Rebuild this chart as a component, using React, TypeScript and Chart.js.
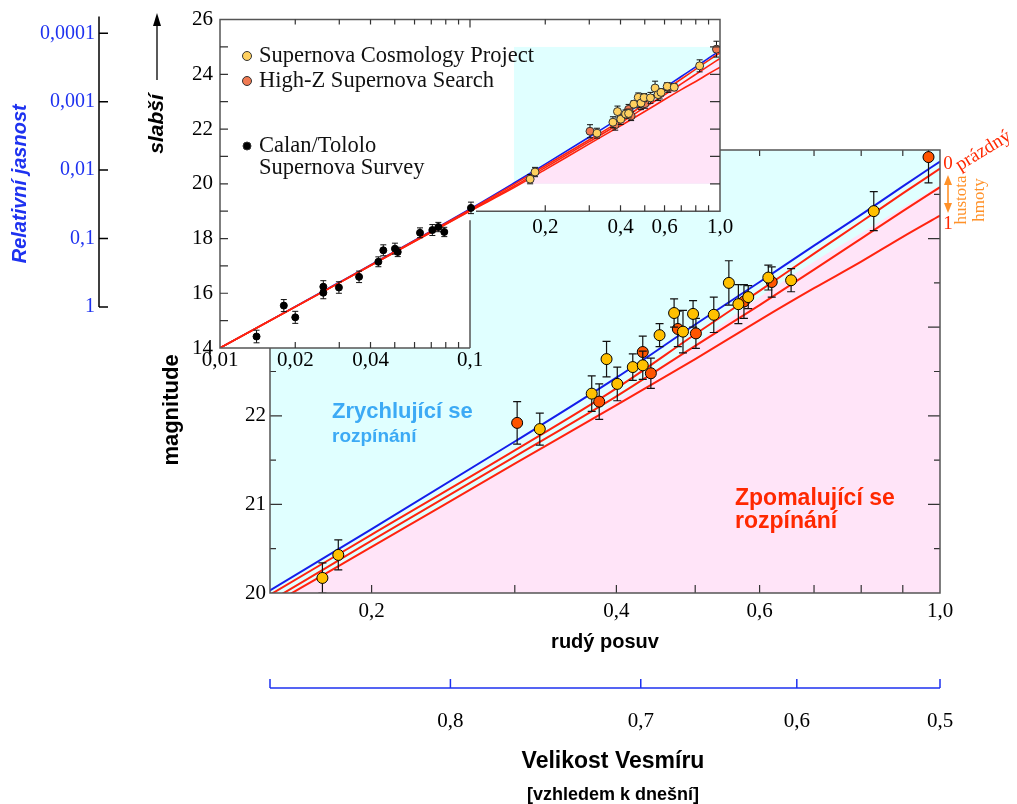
import React, { useEffect, useRef } from 'react';
import { Chart, registerables } from 'chart.js';

Chart.register(...registerables);

// ================= DATA =================
// Supernova Cosmology Project: redshift, effective magnitude, error
const SCP_Z = [0.174, 0.182, 0.322, 0.373, 0.389, 0.401, 0.419, 0.431, 0.452, 0.471, 0.483, 0.497, 0.527, 0.550, 0.565, 0.581, 0.615, 0.656, 0.829];
const SCP_MAG = [20.17, 20.43, 21.85, 22.25, 22.64, 22.36, 22.55, 22.57, 22.91, 23.16, 22.95, 23.15, 23.14, 23.50, 23.26, 23.34, 23.56, 23.53, 24.31];
const SCP_ERR = [0.17, 0.17, 0.18, 0.20, 0.20, 0.19, 0.15, 0.16, 0.13, 0.16, 0.24, 0.15, 0.20, 0.25, 0.22, 0.13, 0.14, 0.13, 0.22];

// High-Z Supernova Search
const HZ_Z = [0.302, 0.381, 0.431, 0.441, 0.476, 0.501, 0.574, 0.621, 0.968];
const HZ_MAG = [21.92, 22.16, 22.72, 22.48, 22.98, 22.93, 23.29, 23.51, 24.92];
const HZ_ERR = [0.24, 0.20, 0.18, 0.17, 0.20, 0.17, 0.19, 0.17, 0.29];

// Calan/Tololo Supernova Survey (low redshift, inset only)
const CT_Z = [0.0140, 0.0180, 0.0200, 0.0259, 0.0259, 0.0299, 0.0360, 0.0430, 0.0450, 0.0501, 0.0514, 0.0631, 0.0707, 0.0747, 0.0789, 0.1009];
const CT_MAG = [14.42, 15.55, 15.12, 16.24, 16.02, 16.21, 16.60, 17.15, 17.57, 17.63, 17.51, 18.21, 18.31, 18.42, 18.24, 19.12];
const CT_ERR = [0.23, 0.22, 0.22, 0.22, 0.22, 0.21, 0.21, 0.18, 0.20, 0.20, 0.17, 0.18, 0.20, 0.17, 0.17, 0.21];

// Model curves (magnitude at the given redshifts)
const MODEL_Z = [0.01, 0.03, 0.1, 0.15, 0.2, 0.3, 0.4, 0.5, 0.6, 0.7, 0.8, 0.9, 1.0];
const MODEL_ACCEL_MAG = [14.0, 16.40, 19.08, 20.03, 20.72, 21.71, 22.43, 23.03, 23.51, 23.92, 24.27, 24.59, 24.87];
const MODEL_EMPTY_MAG = [14.0, 16.39, 19.05, 19.98, 20.66, 21.61, 22.31, 22.92, 23.41, 23.83, 24.19, 24.51, 24.79];
const MODEL_HALF_MAG = [14.0, 16.38, 19.02, 19.91, 20.59, 21.54, 22.22, 22.79, 23.25, 23.65, 24.00, 24.31, 24.58];
const MODEL_FULL_MAG = [14.0, 16.38, 19.00, 19.86, 20.52, 21.46, 22.12, 22.64, 23.08, 23.44, 23.74, 24.02, 24.26];

// Boundary between accelerating (cyan) and decelerating (pink) regions
const BOUNDARY_Z = [0.15, 0.2, 0.3, 0.4, 0.5, 0.6, 0.7, 0.8, 0.9, 1.0];
const BOUNDARY_MAG = [19.88, 20.53, 21.46, 22.17, 22.81, 23.34, 23.74, 24.06, 24.35, 24.60];

const SERIES_LABELS = ['Supernova Cosmology Project', 'High-Z Supernova Search', 'Calan/Tololo Supernova Survey'];
const LEGEND_LINES = [['Supernova Cosmology Project'], ['High-Z Supernova Search'], ['Calan/Tololo', 'Supernova Survey']];

// ---- axes ----
const MAIN_Z_RANGE = [0.15, 1.0];
const MAIN_MAG_RANGE = [20, 25];
const MAIN_X_TICKS = [0.2, 0.4, 0.6, 1.0];
const MAIN_X_LABELS = ['0,2', '0,4', '0,6', '1,0'];
const MAIN_X_MARKS = [0.2, 0.3, 0.4, 0.5, 0.6, 0.7, 0.8, 0.9];
const MAIN_Y_TICKS = [20, 21, 22, 23, 24, 25];
const MAIN_Y_LABELS = ['20', '21', '22', '23', '24', '25'];
const MAIN_Y_MARKS = [20.5, 21, 21.5, 22, 22.5, 23, 23.5, 24, 24.5];

const SIZE_TICKS = [0.8, 0.7, 0.6, 0.5];
const SIZE_LABELS = ['0,8', '0,7', '0,6', '0,5'];

const INSET_Z_RANGE = [0.01, 1.0];
const INSET_MAG_RANGE = [14, 26];
const INSET_NOTCH = { z: 0.1, mag: 19 };
const INSET_X_TICKS = [0.01, 0.02, 0.04, 0.1];
const INSET_X_LABELS = ['0,01', '0,02', '0,04', '0,1'];
const INSET_X_NOTCH_TICKS = [0.2, 0.4, 0.6, 1.0];
const INSET_X_NOTCH_LABELS = ['0,2', '0,4', '0,6', '1,0'];
const INSET_X_MARKS = [0.02, 0.03, 0.04, 0.05, 0.06, 0.07, 0.08, 0.09, 0.1, 0.2, 0.3, 0.4, 0.5, 0.6, 0.7, 0.8, 0.9];
const INSET_Y_TICKS = [14, 16, 18, 20, 22, 24, 26];
const INSET_Y_LABELS = ['14', '16', '18', '20', '22', '24', '26'];
const INSET_Y_MARKS = [15, 16, 17, 18, 19, 20, 21, 22, 23, 24, 25];

const BRIGHT_REF_MAG = 15.5;
const BRIGHT_TICKS = [1, 0.1, 0.01, 0.001, 0.0001];
const BRIGHT_LABELS = ['1', '0,1', '0,01', '0,001', '0,0001'];

// ================= STYLE =================
const W = 1017;
const H = 804;
const SERIF = '"Liberation Serif", "Times New Roman", serif';
const SANS = '"Liberation Sans", Arial, sans-serif';
const CYAN = 'rgb(224,255,255)';
const PINK = 'rgb(255,228,248)';
const BLUE_LINE = 'rgb(20,30,235)';
const RED_LINE = 'rgb(255,35,15)';
const SCP_FILL = 'rgb(255,192,0)';
const HZ_FILL = 'rgb(255,85,0)';
const SCP_FILL_INSET = 'rgb(255,208,95)';
const HZ_FILL_INSET = 'rgb(240,122,82)';
const LIGHT_BLUE = 'rgb(60,170,245)';
const TEXT_RED = 'rgb(255,40,0)';
const AXIS_BLUE = 'rgb(30,50,240)';
const ORANGE = 'rgb(255,145,40)';

const pts = (xs: number[], ys: number[]) => xs.map((x, i) => ({ x, y: ys[i] }));

function txt(ctx: any, s: string, x: number, y: number, font: string, color: string,
  align: string = 'left', baseline: string = 'alphabetic', rot = 0) {
  ctx.save();
  ctx.translate(x, y);
  if (rot) ctx.rotate(rot);
  ctx.font = font;
  ctx.fillStyle = color;
  ctx.textAlign = align;
  ctx.textBaseline = baseline;
  ctx.fillText(s, 0, 0);
  ctx.restore();
}

function arrowHead(ctx: any, x: number, y: number, dir: number, w: number, l: number) {
  // dir = -1: pointing up, 1: pointing down; (x,y) is the tip
  ctx.beginPath();
  ctx.moveTo(x, y);
  ctx.lineTo(x - w / 2, y - dir * l);
  ctx.lineTo(x + w / 2, y - dir * l);
  ctx.closePath();
  ctx.fill();
}

const errorBars = {
  id: 'errorBars',
  beforeDatasetDraw(chart: any, args: any) {
    const ds = chart.data.datasets[args.index];
    if (!ds.errors) return;
    const meta = args.meta;
    const ys = chart.scales[meta.yAxisID];
    const a = chart.chartArea;
    const ctx = chart.ctx;
    const cap = ds.errorCap ?? 4;
    ctx.save();
    ctx.beginPath();
    ctx.rect(a.left, a.top, a.right - a.left, a.bottom - a.top);
    ctx.clip();
    ctx.strokeStyle = ds.errorColor ?? '#111';
    ctx.lineWidth = ds.errorWidth ?? 1.2;
    ds.data.forEach((d: any, i: number) => {
      const el = meta.data[i];
      if (!el) return;
      const x = el.x;
      const y1 = ys.getPixelForValue(d.y + ds.errors[i]);
      const y2 = ys.getPixelForValue(d.y - ds.errors[i]);
      ctx.beginPath();
      ctx.moveTo(x, y1); ctx.lineTo(x, y2);
      ctx.moveTo(x - cap, y1); ctx.lineTo(x + cap, y1);
      ctx.moveTo(x - cap, y2); ctx.lineTo(x + cap, y2);
      ctx.stroke();
    });
    ctx.restore();
  },
};

const mainDecor = {
  id: 'mainDecor',
  beforeDraw(chart: any) {
    const { ctx, chartArea: a } = chart;
    ctx.save();
    ctx.fillStyle = CYAN;
    ctx.fillRect(a.left, a.top, a.right - a.left, a.bottom - a.top);
    ctx.restore();
  },
  afterDraw(chart: any) {
    const { ctx, chartArea: a, scales } = chart;
    const x = scales.x, y = scales.y, x2 = scales.x2;
    ctx.save();
    // inner tick marks
    ctx.strokeStyle = '#333';
    ctx.lineWidth = 1.2;
    ctx.beginPath();
    MAIN_X_MARKS.forEach((v) => {
      const px = x.getPixelForValue(v);
      ctx.moveTo(px, a.bottom); ctx.lineTo(px, a.bottom - 8);
      ctx.moveTo(px, a.top); ctx.lineTo(px, a.top + 6);
    });
    MAIN_Y_MARKS.forEach((v) => {
      const py = y.getPixelForValue(v);
      const len = Number.isInteger(v) ? 12 : 6;
      ctx.moveTo(a.left, py); ctx.lineTo(a.left + len, py);
      ctx.moveTo(a.right, py); ctx.lineTo(a.right - len, py);
    });
    ctx.stroke();
    // frame
    ctx.strokeStyle = '#555';
    ctx.lineWidth = 1.5;
    ctx.strokeRect(a.left, a.top, a.right - a.left, a.bottom - a.top);

    // size-of-universe axis (blue)
    const yb = x2.top;
    ctx.strokeStyle = AXIS_BLUE;
    ctx.lineWidth = 1.5;
    ctx.beginPath();
    ctx.moveTo(a.left, yb); ctx.lineTo(a.right, yb);
    [MAIN_Z_RANGE[0], ...SIZE_TICKS.map((s) => 1 / s - 1)].forEach((z) => {
      const px = x2.getPixelForValue(z);
      ctx.moveTo(px, yb); ctx.lineTo(px, yb - 9);
    });
    ctx.stroke();

    // texts
    txt(ctx, 'magnitude', 172, 410, `bold 22px ${SANS}`, '#000', 'center', 'middle', -Math.PI / 2);
    txt(ctx, 'Zrychlující se', 332, 418, `bold 22px ${SANS}`, LIGHT_BLUE);
    txt(ctx, 'rozpínání', 332, 442, `bold 19px ${SANS}`, LIGHT_BLUE);
    txt(ctx, 'Zpomalující se', 735, 505, `bold 23px ${SANS}`, TEXT_RED);
    txt(ctx, 'rozpínání', 735, 528, `bold 23px ${SANS}`, TEXT_RED);
    txt(ctx, 'Velikost Vesmíru', 613, 762, `bold 23px ${SANS}`, '#000', 'center', 'middle');
    txt(ctx, '[vzhledem k dnešní]', 613, 795, `bold 18px ${SANS}`, '#000', 'center', 'middle');

    txt(ctx, '0', 948, 164, `19px ${SERIF}`, TEXT_RED, 'center', 'middle');
    txt(ctx, 'prázdný', 960, 171, `19px ${SERIF}`, TEXT_RED, 'left', 'alphabetic', -0.55);
    txt(ctx, '1', 948, 224, `19px ${SERIF}`, TEXT_RED, 'center', 'middle');
    ctx.strokeStyle = ORANGE;
    ctx.fillStyle = ORANGE;
    ctx.lineWidth = 1.6;
    ctx.beginPath(); ctx.moveTo(948, 183); ctx.lineTo(948, 205); ctx.stroke();
    arrowHead(ctx, 948, 175, -1, 8, 10);
    arrowHead(ctx, 948, 213, 1, 8, 10);
    txt(ctx, 'hustota', 962, 200, `17px ${SERIF}`, ORANGE, 'center', 'middle', -Math.PI / 2);
    txt(ctx, 'hmoty', 980, 200, `17px ${SERIF}`, ORANGE, 'center', 'middle', -Math.PI / 2);
    ctx.restore();
  },
};

const insetDecor = {
  id: 'insetDecor',
  beforeDraw(chart: any) {
    const { ctx, chartArea: a, scales } = chart;
    const x = scales.x, y = scales.y;
    const nx = x.getPixelForValue(INSET_NOTCH.z);
    const ny = y.getPixelForValue(INSET_NOTCH.mag);
    ctx.save();
    ctx.fillStyle = '#fff';
    ctx.beginPath();
    ctx.moveTo(a.left, a.top); ctx.lineTo(a.right, a.top); ctx.lineTo(a.right, ny);
    ctx.lineTo(nx, ny); ctx.lineTo(nx, a.bottom); ctx.lineTo(a.left, a.bottom);
    ctx.closePath();
    ctx.fill();
    const cx0 = x.getPixelForValue(MAIN_Z_RANGE[0]);
    const cx1 = x.getPixelForValue(MAIN_Z_RANGE[1]);
    const cy0 = y.getPixelForValue(MAIN_MAG_RANGE[1]);
    const cy1 = y.getPixelForValue(MAIN_MAG_RANGE[0]);
    ctx.fillStyle = CYAN;
    ctx.fillRect(cx0, cy0, cx1 - cx0, cy1 - cy0);
    ctx.restore();
  },
  afterDraw(chart: any) {
    const { ctx, chartArea: a, scales } = chart;
    const x = scales.x, y = scales.y, yb = scales.yb;
    const nx = x.getPixelForValue(INSET_NOTCH.z);
    const ny = y.getPixelForValue(INSET_NOTCH.mag);
    ctx.save();
    // frame (L-shaped)
    ctx.strokeStyle = '#555';
    ctx.lineWidth = 1.5;
    ctx.beginPath();
    ctx.moveTo(nx, a.bottom); ctx.lineTo(a.left, a.bottom); ctx.lineTo(a.left, a.top);
    ctx.lineTo(a.right, a.top); ctx.lineTo(a.right, ny); ctx.lineTo(nx + 6, ny);
    ctx.moveTo(nx, ny + 9); ctx.lineTo(nx, a.bottom);
    ctx.stroke();
    // ticks
    ctx.strokeStyle = '#333';
    ctx.lineWidth = 1.2;
    ctx.beginPath();
    INSET_Y_MARKS.forEach((v) => {
      const py = y.getPixelForValue(v);
      ctx.moveTo(a.left, py); ctx.lineTo(a.left + 8, py);
      if (v > INSET_NOTCH.mag) { ctx.moveTo(a.right, py); ctx.lineTo(a.right - 10, py); }
    });
    INSET_X_MARKS.forEach((v) => {
      const px = x.getPixelForValue(v);
      const len = v === 0.1 ? 8 : 5;
      ctx.moveTo(px, a.top); ctx.lineTo(px, a.top + len);
      if (v < INSET_NOTCH.z) { ctx.moveTo(px, a.bottom); ctx.lineTo(px, a.bottom - 6); }
      else if (v > INSET_NOTCH.z) { ctx.moveTo(px, ny); ctx.lineTo(px, ny - 6); }
    });
    ctx.stroke();
    INSET_X_NOTCH_TICKS.forEach((v, i) => {
      txt(ctx, INSET_X_NOTCH_LABELS[i], x.getPixelForValue(v), ny + 16, `21px ${SERIF}`, '#000', 'center', 'middle');
    });

    // legend
    const lx = 247;
    const items = [
      { fill: SCP_FILL_INSET, r: 4.5, y: 56 },
      { fill: HZ_FILL_INSET, r: 4.5, y: 81 },
      { fill: '#000', r: 4, y: 146 },
    ];
    items.forEach((it, k) => {
      ctx.beginPath();
      ctx.arc(lx, it.y, it.r, 0, Math.PI * 2);
      ctx.fillStyle = it.fill;
      ctx.fill();
      ctx.strokeStyle = '#333';
      ctx.lineWidth = 1;
      ctx.stroke();
      LEGEND_LINES[k].forEach((line, j) => {
        txt(ctx, line, 259, it.y + j * 22, `22.5px ${SERIF}`, '#111', 'left', 'middle');
      });
    });

    // relative brightness axis line + ticks
    const bx = yb.right - 1;
    ctx.strokeStyle = '#000';
    ctx.lineWidth = 1.5;
    ctx.beginPath();
    ctx.moveTo(bx, a.top - 3);
    ctx.lineTo(bx, yb.getPixelForValue(1));
    BRIGHT_TICKS.forEach((v) => {
      const py = yb.getPixelForValue(v);
      ctx.moveTo(bx, py); ctx.lineTo(bx + 9, py);
    });
    ctx.stroke();

    // "fainter" arrow
    ctx.strokeStyle = '#000';
    ctx.fillStyle = '#000';
    ctx.lineWidth = 1.3;
    ctx.beginPath(); ctx.moveTo(157, 80); ctx.lineTo(157, 22); ctx.stroke();
    arrowHead(ctx, 157, 13, -1, 8, 13);
    txt(ctx, 'slabší', 157, 124, `italic bold 21px ${SANS}`, '#000', 'center', 'middle', -Math.PI / 2);
    ctx.restore();
  },
};

function lineDs(label: string, mags: number[], color: string, width: number, order: number) {
  return {
    label,
    data: pts(MODEL_Z, mags),
    borderColor: color,
    borderWidth: width,
    pointRadius: 0,
    fill: false,
    order,
    cubicInterpolationMode: 'monotone',
  };
}

function mainConfig(): any {
  return {
    type: 'line',
    data: {
      datasets: [
        { label: SERIES_LABELS[0], data: pts(SCP_Z, SCP_MAG), errors: SCP_ERR, errorCap: 4, showLine: false,
          pointRadius: 5.5, pointBackgroundColor: SCP_FILL, pointBorderColor: '#000', pointBorderWidth: 1, order: 1 },
        { label: SERIES_LABELS[1], data: pts(HZ_Z, HZ_MAG), errors: HZ_ERR, errorCap: 4, showLine: false,
          pointRadius: 5.5, pointBackgroundColor: HZ_FILL, pointBorderColor: '#000', pointBorderWidth: 1, order: 1 },
        lineDs('Ω_Λ > 0 (zrychlující)', MODEL_ACCEL_MAG, BLUE_LINE, 2, 3),
        lineDs('Ω_M = 0 (prázdný)', MODEL_EMPTY_MAG, RED_LINE, 2, 2),
        lineDs('Ω_M = 0,5', MODEL_HALF_MAG, RED_LINE, 2, 2),
        lineDs('Ω_M = 1', MODEL_FULL_MAG, RED_LINE, 2, 2),
        { label: 'hranice', data: pts(BOUNDARY_Z, BOUNDARY_MAG), borderColor: 'rgba(0,0,0,0)', borderWidth: 0,
          pointRadius: 0, fill: 'start', backgroundColor: PINK, order: 10, cubicInterpolationMode: 'monotone' },
      ],
    },
    options: {
      animation: false,
      responsive: false,
      devicePixelRatio: 1,
      events: [],
      layout: { padding: { top: 150, right: 77, left: 0, bottom: 56 } },
      plugins: { legend: { display: false }, tooltip: { enabled: false } },
      scales: {
        x: {
          type: 'logarithmic', position: 'bottom', weight: 0,
          min: MAIN_Z_RANGE[0], max: MAIN_Z_RANGE[1],
          afterBuildTicks: (s: any) => { s.ticks = MAIN_X_TICKS.map((v) => ({ value: v })); },
          afterFit: (s: any) => { s.height = 95; },
          grid: { display: false, drawTicks: false },
          border: { display: false },
          ticks: { autoSkip: false, maxRotation: 0, padding: 6, color: '#000',
            font: { family: SERIF, size: 21 }, callback: (_v: any, i: number) => MAIN_X_LABELS[i] },
          title: { display: true, text: 'rudý posuv', color: '#000',
            font: { family: SANS, size: 20, weight: 'bold' }, padding: { top: 0, bottom: 34 } },
        },
        x2: {
          type: 'logarithmic', position: 'bottom', weight: 1,
          min: MAIN_Z_RANGE[0], max: MAIN_Z_RANGE[1],
          afterBuildTicks: (s: any) => { s.ticks = SIZE_TICKS.map((a) => ({ value: 1 / a - 1 })); },
          afterFit: (s: any) => { s.height = 60; },
          grid: { display: false, drawTicks: false },
          border: { display: false },
          ticks: { autoSkip: false, maxRotation: 0, padding: 21, color: '#000',
            font: { family: SERIF, size: 21 }, callback: (_v: any, i: number) => SIZE_LABELS[i] },
        },
        y: {
          type: 'linear', position: 'left',
          min: MAIN_MAG_RANGE[0], max: MAIN_MAG_RANGE[1],
          afterBuildTicks: (s: any) => { s.ticks = MAIN_Y_TICKS.map((v) => ({ value: v })); },
          afterFit: (s: any) => { s.width = 270; },
          grid: { display: false, drawTicks: false },
          border: { display: false },
          ticks: { autoSkip: false, padding: 4, color: '#000',
            font: { family: SERIF, size: 21 }, callback: (_v: any, i: number) => MAIN_Y_LABELS[i] },
        },
      },
    },
    plugins: [errorBars, mainDecor],
  };
}

function insetConfig(): any {
  return {
    type: 'line',
    data: {
      datasets: [
        { label: SERIES_LABELS[0], data: pts(SCP_Z, SCP_MAG), errors: SCP_ERR, errorCap: 3, errorWidth: 1, showLine: false,
          pointRadius: 4, pointBackgroundColor: SCP_FILL_INSET, pointBorderColor: '#333', pointBorderWidth: 1, order: 1 },
        { label: SERIES_LABELS[1], data: pts(HZ_Z, HZ_MAG), errors: HZ_ERR, errorCap: 3, errorWidth: 1, showLine: false,
          pointRadius: 4, pointBackgroundColor: HZ_FILL_INSET, pointBorderColor: '#333', pointBorderWidth: 1, order: 1 },
        { label: SERIES_LABELS[2], data: pts(CT_Z, CT_MAG), errors: CT_ERR, errorCap: 3, errorWidth: 1, showLine: false,
          pointRadius: 3.5, pointBackgroundColor: '#000', pointBorderColor: '#000', pointBorderWidth: 1, order: 1 },
        lineDs('Ω_Λ > 0 (zrychlující)', MODEL_ACCEL_MAG, BLUE_LINE, 1.6, 3),
        lineDs('Ω_M = 0 (prázdný)', MODEL_EMPTY_MAG, RED_LINE, 1.6, 2),
        lineDs('Ω_M = 0,5', MODEL_HALF_MAG, RED_LINE, 1.6, 2),
        lineDs('Ω_M = 1', MODEL_FULL_MAG, RED_LINE, 1.6, 2),
        { label: 'hranice', data: pts(BOUNDARY_Z, BOUNDARY_MAG), borderColor: 'rgba(0,0,0,0)', borderWidth: 0,
          pointRadius: 0, fill: { value: MAIN_MAG_RANGE[0] }, backgroundColor: PINK, order: 10,
          cubicInterpolationMode: 'monotone' },
      ],
    },
    options: {
      animation: false,
      responsive: false,
      devicePixelRatio: 1,
      events: [],
      layout: { padding: { top: 17.5, right: 297, left: 0, bottom: 426 } },
      plugins: { legend: { display: false }, tooltip: { enabled: false } },
      scales: {
        x: {
          type: 'logarithmic', position: 'bottom',
          min: INSET_Z_RANGE[0], max: INSET_Z_RANGE[1],
          afterBuildTicks: (s: any) => { s.ticks = INSET_X_TICKS.map((v) => ({ value: v })); },
          afterFit: (s: any) => { s.height = 30; },
          grid: { display: false, drawTicks: false },
          border: { display: false },
          ticks: { autoSkip: false, maxRotation: 0, padding: 0, color: '#000',
            font: { family: SERIF, size: 21 }, callback: (_v: any, i: number) => INSET_X_LABELS[i] },
        },
        y: {
          type: 'linear', position: 'left', weight: 0,
          min: INSET_MAG_RANGE[0], max: INSET_MAG_RANGE[1],
          afterBuildTicks: (s: any) => { s.ticks = INSET_Y_TICKS.map((v) => ({ value: v })); },
          afterFit: (s: any) => { s.width = 120; },
          grid: { display: false, drawTicks: false },
          border: { display: false },
          ticks: { autoSkip: false, padding: 7, color: '#000',
            font: { family: SERIF, size: 21 }, callback: (_v: any, i: number) => INSET_Y_LABELS[i] },
        },
        yb: {
          type: 'logarithmic', position: 'left', weight: 1, reverse: true,
          min: Math.pow(10, -0.4 * (INSET_MAG_RANGE[1] - BRIGHT_REF_MAG)),
          max: Math.pow(10, -0.4 * (INSET_MAG_RANGE[0] - BRIGHT_REF_MAG)),
          afterBuildTicks: (s: any) => { s.ticks = BRIGHT_TICKS.map((v) => ({ value: v })); },
          afterFit: (s: any) => { s.width = 100; },
          grid: { display: false, drawTicks: false },
          border: { display: false },
          ticks: { autoSkip: false, padding: 5, color: AXIS_BLUE,
            font: { family: SERIF, size: 20 }, callback: (_v: any, i: number) => BRIGHT_LABELS[i] },
          title: { display: true, text: 'Relativní jasnost', color: AXIS_BLUE,
            font: { family: SANS, size: 20, weight: 'bold', style: 'italic' }, padding: { top: 8, bottom: 0 } },
        },
      },
    },
    plugins: [errorBars, insetDecor],
  };
}

export default function App() {
  const mainRef = useRef<HTMLCanvasElement>(null);
  const insetRef = useRef<HTMLCanvasElement>(null);

  useEffect(() => {
    const main = new Chart(mainRef.current as HTMLCanvasElement, mainConfig());
    const inset = new Chart(insetRef.current as HTMLCanvasElement, insetConfig());
    return () => {
      main.destroy();
      inset.destroy();
    };
  }, []);

  return (
    <div style={{ position: 'absolute', left: 0, top: 0, width: W, height: H, background: '#fff', overflow: 'hidden' }}>
      <canvas ref={mainRef} width={W} height={H} style={{ position: 'absolute', left: 0, top: 0 }} />
      <canvas ref={insetRef} width={W} height={H} style={{ position: 'absolute', left: 0, top: 0 }} />
    </div>
  );
}
